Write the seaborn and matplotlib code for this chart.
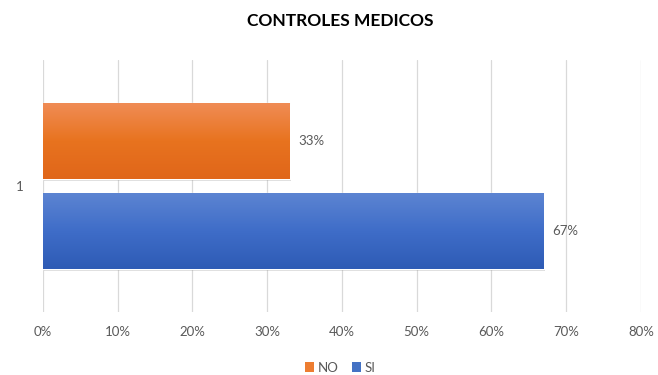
import numpy as np
import pandas as pd
import matplotlib
matplotlib.use("Agg")
import matplotlib.pyplot as plt
import seaborn as sns
from matplotlib.colors import LinearSegmentedColormap
from matplotlib.patches import Patch

# Data
categories = ["1"]
series = ["NO", "SI"]
values = [0.33, 0.67]
labels = ["33%", "67%"]
x_ticks = [0, 0.1, 0.2, 0.3, 0.4, 0.5, 0.6, 0.7, 0.8]
x_tick_labels = ["0%", "10%", "20%", "30%", "40%", "50%", "60%", "70%", "80%"]

df = pd.DataFrame({"cat": categories * len(series), "serie": series, "valor": values})

sns.set_theme(style="white")
plt.rcParams["font.family"] = ["Lato", "DejaVu Sans"]

grad = {
    "NO": ("#F08C55", "#E8731F", "#E0661A"),
    "SI": ("#5C84D2", "#3F6DC8", "#2E5BB5"),
}
palette = {"NO": "#ED7D31", "SI": "#4472C4"}

fig = plt.figure(figsize=(6.58, 3.75), dpi=100)
ax = fig.add_axes([0.0653, 0.168, 0.9087, 0.672])

sns.barplot(data=df, x="valor", y="cat", hue="serie", hue_order=series,
            palette=palette, orient="h", width=0.714, gap=0.16,
            legend=False, ax=ax, zorder=3)

# gradient fill + soft shadow for each bar
for patch, s in zip(ax.patches, series):
    x0, y0 = patch.get_x(), patch.get_y()
    w, h = patch.get_width(), patch.get_height()
    shadow = plt.Rectangle((x0 + 0.002, y0 + 0.01), w, h, color="#000000",
                           alpha=0.15, zorder=2, lw=0)
    ax.add_patch(shadow)
    cmap = LinearSegmentedColormap.from_list(s, list(grad[s]))
    g = np.linspace(0, 1, 100).reshape(-1, 1)
    im = ax.imshow(g, cmap=cmap, aspect="auto",
                   extent=(x0, x0 + w, y0 + h, y0), origin="upper", zorder=4)
    im.set_clip_path(patch)
    ax.text(x0 + w + 0.012, y0 + h / 2, labels[series.index(s)],
            va="center", ha="left", fontsize=9.5, color="#595959", zorder=5)

ax.set_xlim(0, 0.8)
ax.set_ylim(0.5, -0.5)
ax.set_xticks(x_ticks)
ax.set_xticklabels(x_tick_labels, fontsize=9.5, color="#595959")
ax.tick_params(axis="y", labelsize=9.5, labelcolor="#595959", length=0, pad=14)
ax.tick_params(axis="x", length=0, pad=10)
ax.grid(axis="x", color="#D9D9D9", lw=0.9, zorder=0)
ax.set_axisbelow(True)
for sp in ax.spines.values():
    sp.set_visible(False)
ax.set_xlabel("")
ax.set_ylabel("")

fig.suptitle("CONTROLES MEDICOS", x=0.517, y=0.965, fontsize=12.5,
             fontweight="bold", color="#000000")

handles = [Patch(facecolor=palette[s], edgecolor="none", label=s) for s in series]
fig.legend(handles=handles, loc="center", bbox_to_anchor=(0.517, 0.02),
           ncol=2, frameon=False, fontsize=9.5, handlelength=0.7,
           handleheight=0.7, handletextpad=0.3, columnspacing=1.0,
           labelcolor="#595959")

fig.savefig("out.png", dpi=100)
